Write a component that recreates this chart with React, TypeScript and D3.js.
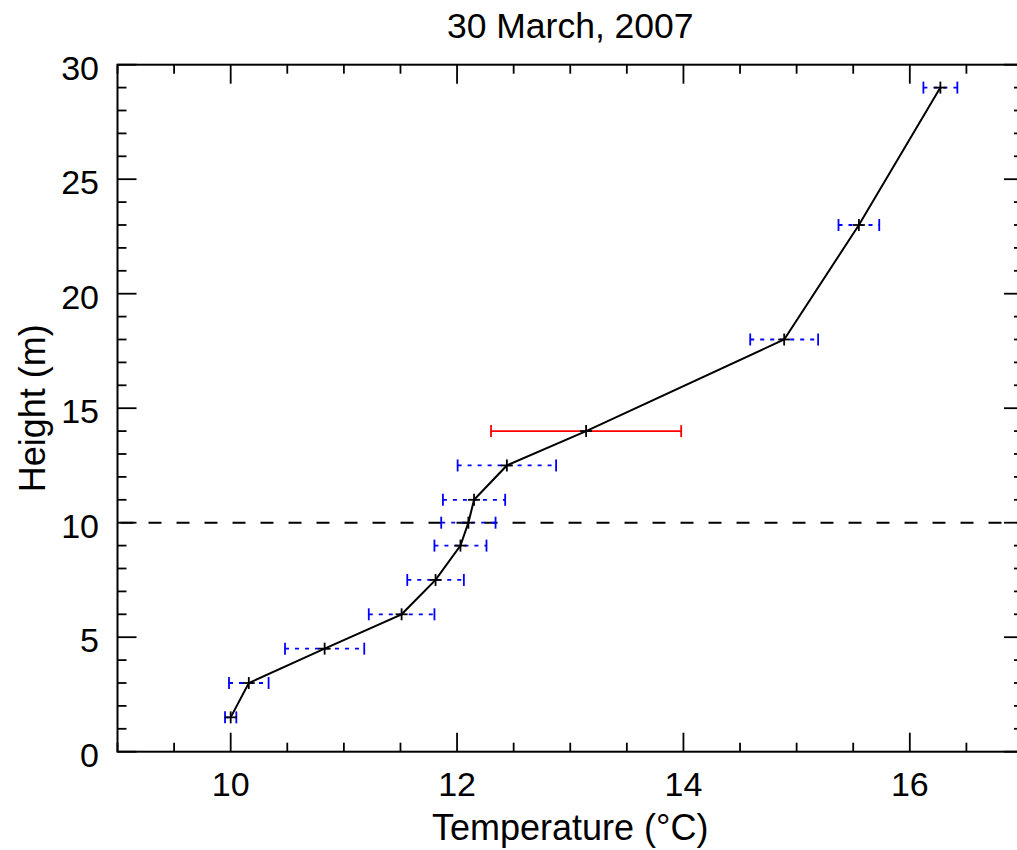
import React from "react";
import * as d3 from "d3";

const heights = [1.5, 3, 4.5, 6, 7.5, 9, 10, 11, 12.5, 14, 18, 23, 29];
const temps = [10.0, 10.16, 10.83, 11.51, 11.81, 12.03, 12.1, 12.15, 12.44, 13.14, 14.89, 15.55, 16.27];
const errors = [0.05, 0.175, 0.35, 0.29, 0.25, 0.23, 0.24, 0.275, 0.435, 0.84, 0.3, 0.18, 0.15];
const sensors = ["probe", "probe", "probe", "probe", "probe", "probe", "probe", "probe", "probe", "sonic", "probe", "probe", "probe"];
const xMajorTicks = [10, 12, 14, 16];
const yMajorTicks = [0, 5, 10, 15, 20, 25, 30];
const refHeight = 10;
const title = "30 March, 2007";
const xLabel = "Temperature (°C)";
const yLabel = "Height (m)";

const W = 1017;
const H = 850;
const L = 117.5, R = 1023, T = 64.7, B = 751.7;
const FONT = "'Liberation Sans', Arial, Helvetica, sans-serif";

export default function App() {
  const x = d3.scaleLinear().domain([9, 17]).range([L, R]);
  const y = d3.scaleLinear().domain([0, 30]).range([B, T]);
  const xMinor = d3.range(9, 17.001, 0.5).filter((v) => !xMajorTicks.includes(v));
  const yMinor = d3.range(0, 30.001, 1).filter((v) => !yMajorTicks.includes(v));
  const line = d3.line<number>().x((_, i) => x(temps[i])).y((_, i) => y(heights[i]));
  const majLen = 19, minLen = 9;
  const sw = 1.8;

  return (
    <svg width={W} height={H} style={{ position: "absolute", left: 0, top: 0, background: "#fff" }}>
      <rect x={0} y={0} width={W} height={H} fill="#fff" />
      <rect x={L} y={T} width={R - L} height={B - T} fill="none" stroke="#000" strokeWidth={2} />
      {xMajorTicks.map((v) => (
        <g key={"xM" + v} stroke="#000" strokeWidth={sw}>
          <line x1={x(v)} x2={x(v)} y1={B} y2={B - majLen} />
          <line x1={x(v)} x2={x(v)} y1={T} y2={T + majLen} />
        </g>
      ))}
      {xMinor.map((v) => (
        <g key={"xm" + v} stroke="#000" strokeWidth={sw}>
          <line x1={x(v)} x2={x(v)} y1={B} y2={B - minLen} />
          <line x1={x(v)} x2={x(v)} y1={T} y2={T + minLen} />
        </g>
      ))}
      {yMajorTicks.map((v) => (
        <g key={"yM" + v} stroke="#000" strokeWidth={sw}>
          <line x1={L} x2={L + majLen} y1={y(v)} y2={y(v)} />
          <line x1={R} x2={R - majLen} y1={y(v)} y2={y(v)} />
        </g>
      ))}
      {yMinor.map((v) => (
        <g key={"ym" + v} stroke="#000" strokeWidth={sw}>
          <line x1={L} x2={L + minLen} y1={y(v)} y2={y(v)} />
          <line x1={R} x2={R - minLen} y1={y(v)} y2={y(v)} />
        </g>
      ))}
      {xMajorTicks.map((v) => (
        <text key={"xl" + v} x={x(v)} y={796} textAnchor="middle" fontFamily={FONT} fontSize={34} fill="#000">
          {v}
        </text>
      ))}
      {yMajorTicks.map((v) => (
        <text key={"yl" + v} x={99} y={y(v) + 15} textAnchor="end" fontFamily={FONT} fontSize={34} fill="#000">
          {v}
        </text>
      ))}
      <line x1={L} x2={R} y1={y(refHeight)} y2={y(refHeight)} stroke="#000" strokeWidth={2} strokeDasharray="13 15" strokeDashoffset={-3} />
      {heights.map((h, i) => {
        const red = sensors[i] === "sonic";
        const c = red ? "#ff0000" : "#0000ff";
        const x0 = x(temps[i] - errors[i]);
        const x1 = x(temps[i] + errors[i]);
        const yy = y(h);
        return (
          <g key={"e" + i} stroke={c} strokeWidth={1.8}>
            <line x1={x0} x2={x1} y1={yy} y2={yy} strokeDasharray={red ? undefined : "4 6"} />
            <line x1={x0} x2={x0} y1={yy - 6} y2={yy + 6} />
            <line x1={x1} x2={x1} y1={yy - 6} y2={yy + 6} />
          </g>
        );
      })}
      <path d={line(heights) || ""} fill="none" stroke="#000" strokeWidth={2} />
      {heights.map((h, i) => (
        <g key={"p" + i} stroke="#000" strokeWidth={1.8}>
          <line x1={x(temps[i]) - 6} x2={x(temps[i]) + 6} y1={y(h)} y2={y(h)} />
          <line x1={x(temps[i])} x2={x(temps[i])} y1={y(h) - 6} y2={y(h) + 6} />
        </g>
      ))}
      <text x={(L + R) / 2} y={37.5} textAnchor="middle" fontFamily={FONT} fontSize={35.5} fill="#000">
        {title}
      </text>
      <text x={(L + R) / 2} y={840} textAnchor="middle" fontFamily={FONT} fontSize={36} fill="#000">
        {xLabel}
      </text>
      <text transform={`translate(45, ${(T + B) / 2}) rotate(-90)`} textAnchor="middle" fontFamily={FONT} fontSize={36} fill="#000">
        {yLabel}
      </text>
    </svg>
  );
}
